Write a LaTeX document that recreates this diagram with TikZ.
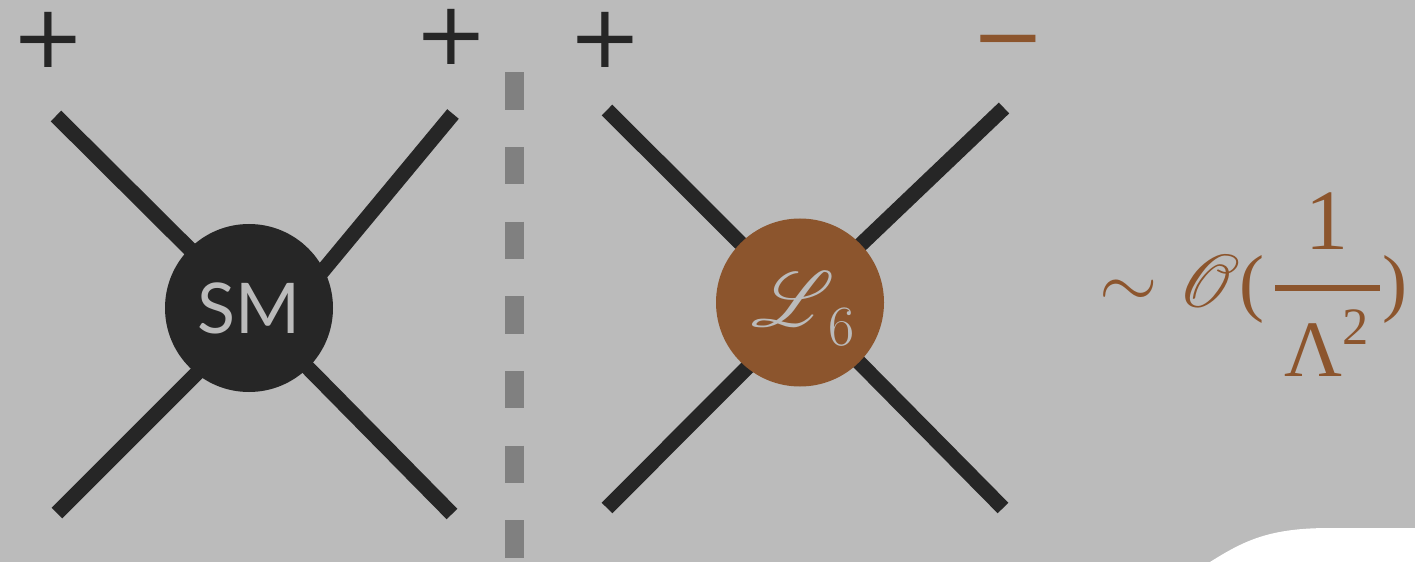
\RequirePackage{fix-cm}
\documentclass[tikz,border=0pt]{standalone}
\usepackage{amsmath}
\usepackage{fontspec}
\DeclareFontFamily{U}{rsfs}{\skewchar\font127 }
\DeclareFontShape{U}{rsfs}{m}{n}{<-6> rsfs5 <6-8> rsfs7 <8-> rsfs10}{}
\usepackage{mathrsfs}
\usetikzlibrary{calc}
\newfontfamily\signfont{DejaVu Sans}
\newfontfamily\smfont{Lato}
\newfontfamily\timesfont{Liberation Serif}
\definecolor{bggray}{HTML}{BBBBBB}
\definecolor{dark}{HTML}{262626}
\definecolor{dashgray}{HTML}{808080}
\definecolor{rust}{HTML}{8C552D}
\pgfdeclarelayer{bg}
\pgfsetlayers{bg,main}
\begin{document}
\begin{tikzpicture}[x=1bp,y=-1bp,
  leg/.style={draw=dark,line width=15bp},
  vertex/.style={circle,inner sep=0pt,minimum size=168bp},
  sign/.style={inner sep=0pt,anchor=base,font=\signfont\fontsize{88bp}{90bp}\selectfont}]
\useasboundingbox (0,0) rectangle (1415,562);
% vertices
\node[vertex,fill=dark,text=bggray,font=\smfont\fontsize{70bp}{80bp}\selectfont] (sm) at (249,308) {SM};
\node[vertex,fill=rust,text=bggray,font=\fontsize{78bp}{90bp}\selectfont] (l6) at (800,302.5)
  {\raisebox{-24bp}[0pt][0pt]{\kern7bp$\mathscr{L}$\kern-6bp\raisebox{-19bp}{\fontsize{57bp}{60bp}\selectfont 6}}};
% free ends of the legs
\coordinate (a1) at (56,116);
\coordinate (a2) at (453,114);
\coordinate (a3) at (57,513);
\coordinate (a4) at (452,514);
\coordinate (b1) at (607,110);
\coordinate (b2) at (1004,108);
\coordinate (b3) at (607,508);
\coordinate (b4) at (1003,508);
% helicity signs
\node[sign,text=dark] (p1) at (48.7,67.5) {+};
\node[sign,text=dark] (p2) at (451,65) {+};
\node[sign,text=dark] (p3) at (605.6,67.5) {+};
\node[sign,text=rust] (m1) at (1008,67) {−};
% formula
\node[text=rust,inner sep=0pt,anchor=base west,font=\fontsize{75bp}{90bp}\selectfont] (f) at (1099,307)
  {$\displaystyle\sim\mathscr{O}\text{\timesfont(}\hspace{9bp}\genfrac{}{}{6bp}{0}{\raisebox{7bp}{\timesfont\fontsize{86bp}{90bp}\selectfont 1}}{\raisebox{-16bp}{$\hspace{10bp}\text{\timesfont\fontsize{80bp}{90bp}\selectfont Λ}^{\text{\timesfont 2}}\hspace{10bp}$}}\hspace{2bp}\text{\timesfont)}$};
\begin{pgfonlayer}{bg}
\fill[bggray] (0,0) rectangle (1415,562);
\fill[white] (1210,562) .. controls (1245,540) and (1270,528) .. (1330,528) -- (1415,528) -- (1415,562) -- cycle;
\coordinate (dtop) at (514.3,72.3);
\coordinate (dbot) at (514.3,557.7);
\draw[dashgray,line width=19bp,dash pattern=on 37.33bp off 37.33bp] (dtop) -- (dbot);
\draw[leg] (a1) -- (sm.center);
\draw[leg] (a2) -- ($(sm.center)+(43,0)$);
\draw[leg] (a3) -- ($(sm.center)+(0,13)$);
\draw[leg] (a4) -- (sm.center);
\draw[leg] (b1) -- (l6.center);
\draw[leg] (b2) -- (l6.center);
\draw[leg] (b3) -- ($(l6.center)+(0,12)$);
\draw[leg] (b4) -- (l6.center);
\end{pgfonlayer}
\end{tikzpicture}
\end{document}
